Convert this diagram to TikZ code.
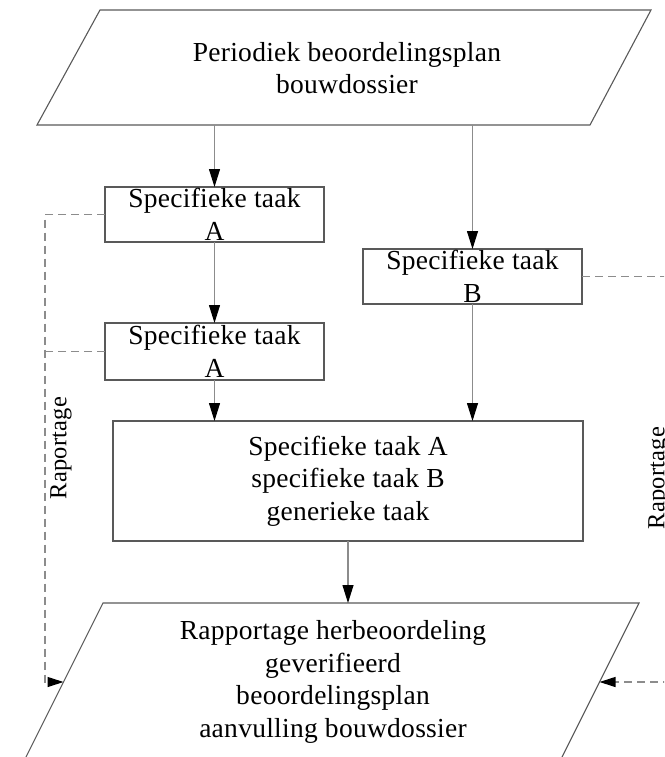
\documentclass[tikz,border=0pt]{standalone}
\usepackage{fontspec}
\setmainfont{Liberation Serif}[LetterSpace=1]
\usetikzlibrary{arrows.meta}
\definecolor{edgegray}{HTML}{595959}
\definecolor{wiregray}{HTML}{8C8C8C}
\begin{document}
\begin{tikzpicture}[x=1pt,y=-1pt,
  every node/.style={inner sep=0pt, outer sep=0pt},
  label text/.style={align=center, font=\fontsize{27.5}{32.5}\selectfont},
  taskbox/.style={label text, draw=edgegray, line width=1.1pt,
                  minimum width=219pt, minimum height=55pt},
  databox/.style={draw=edgegray, line width=1.1pt},
  flow/.style={draw=wiregray, line width=1.1pt,
               -{Triangle[length=18pt,width=11pt,color=black]}},
  report/.style={draw=wiregray, line width=1.1pt, dash pattern=on 8pt off 5pt},
  reportarrow/.style={report, -{Triangle[length=16pt,width=10pt,color=black]}},
  sidelabel/.style={rotate=90, font=\fontsize{24.5}{28}\selectfont}
]
\useasboundingbox (0,0) rectangle (664,757);
\clip (0,0) rectangle (664,757);

% input: periodic assessment plan
\draw[databox] (100,10) -- (651,10) -- (590,125) -- (37,125) -- cycle;
\node[label text] (plan) at (347,68) {Periodiek beoordelingsplan\\bouwdossier};
\coordinate (planbase) at (0,125);

% specific tasks
\node[taskbox] (a1) at (214.5,214.5) {Specifieke taak\\A};
\node[taskbox, minimum height=57pt] (a2) at (214.5,351.5) {Specifieke taak\\A};
\node[taskbox] (b) at (472.5,276.5) {Specifieke taak\\B};

% combined tasks
\node[label text, draw=edgegray, line width=1.1pt,
      minimum width=470pt, minimum height=120pt] (all) at (348,481)
      {Specifieke taak A\\specifieke taak B\\generieke taak};

% output: reassessment report
\draw[databox] (103,603) -- (639,603) -- (545.5,790) -- (9.5,790) -- cycle;
\node[label text] (report) at (333,682)
  {Rapportage herbeoordeling\\geverifieerd\\beoordelingsplan\\aanvulling bouwdossier};
\coordinate (reporttop) at (0,603);
\coordinate (reportleft) at (63.5,682);
\coordinate (reportright) at (599.5,682);

% main flow
\draw[flow] (a1.north |- planbase) -- (a1.north);
\draw[flow] (b.north |- planbase) -- (b.north);
\draw[flow] (a1.south) -- (a2.north);
\draw[flow] (a2.south) -- (a2.south |- all.north);
\draw[flow] (b.south) -- (b.south |- all.north);
\draw[flow] (all.south) -- (all.south |- reporttop);

% reporting lines
\coordinate (railL) at (45,0);
\coordinate (railR) at (690,0);
\draw[reportarrow] (a1.west) -- (a1.west -| railL) -- (railL |- reportleft) -- (reportleft);
\draw[report] (a2.west) -- (a2.west -| railL);
\draw[reportarrow] (b.east) -- (b.east -| railR) -- (railR |- reportright) -- (reportright);

\node[sidelabel] (repL) at (61,448) {Raportage};
\node[sidelabel] (repR) at (659,478) {Raportage};
\end{tikzpicture}
\end{document}
